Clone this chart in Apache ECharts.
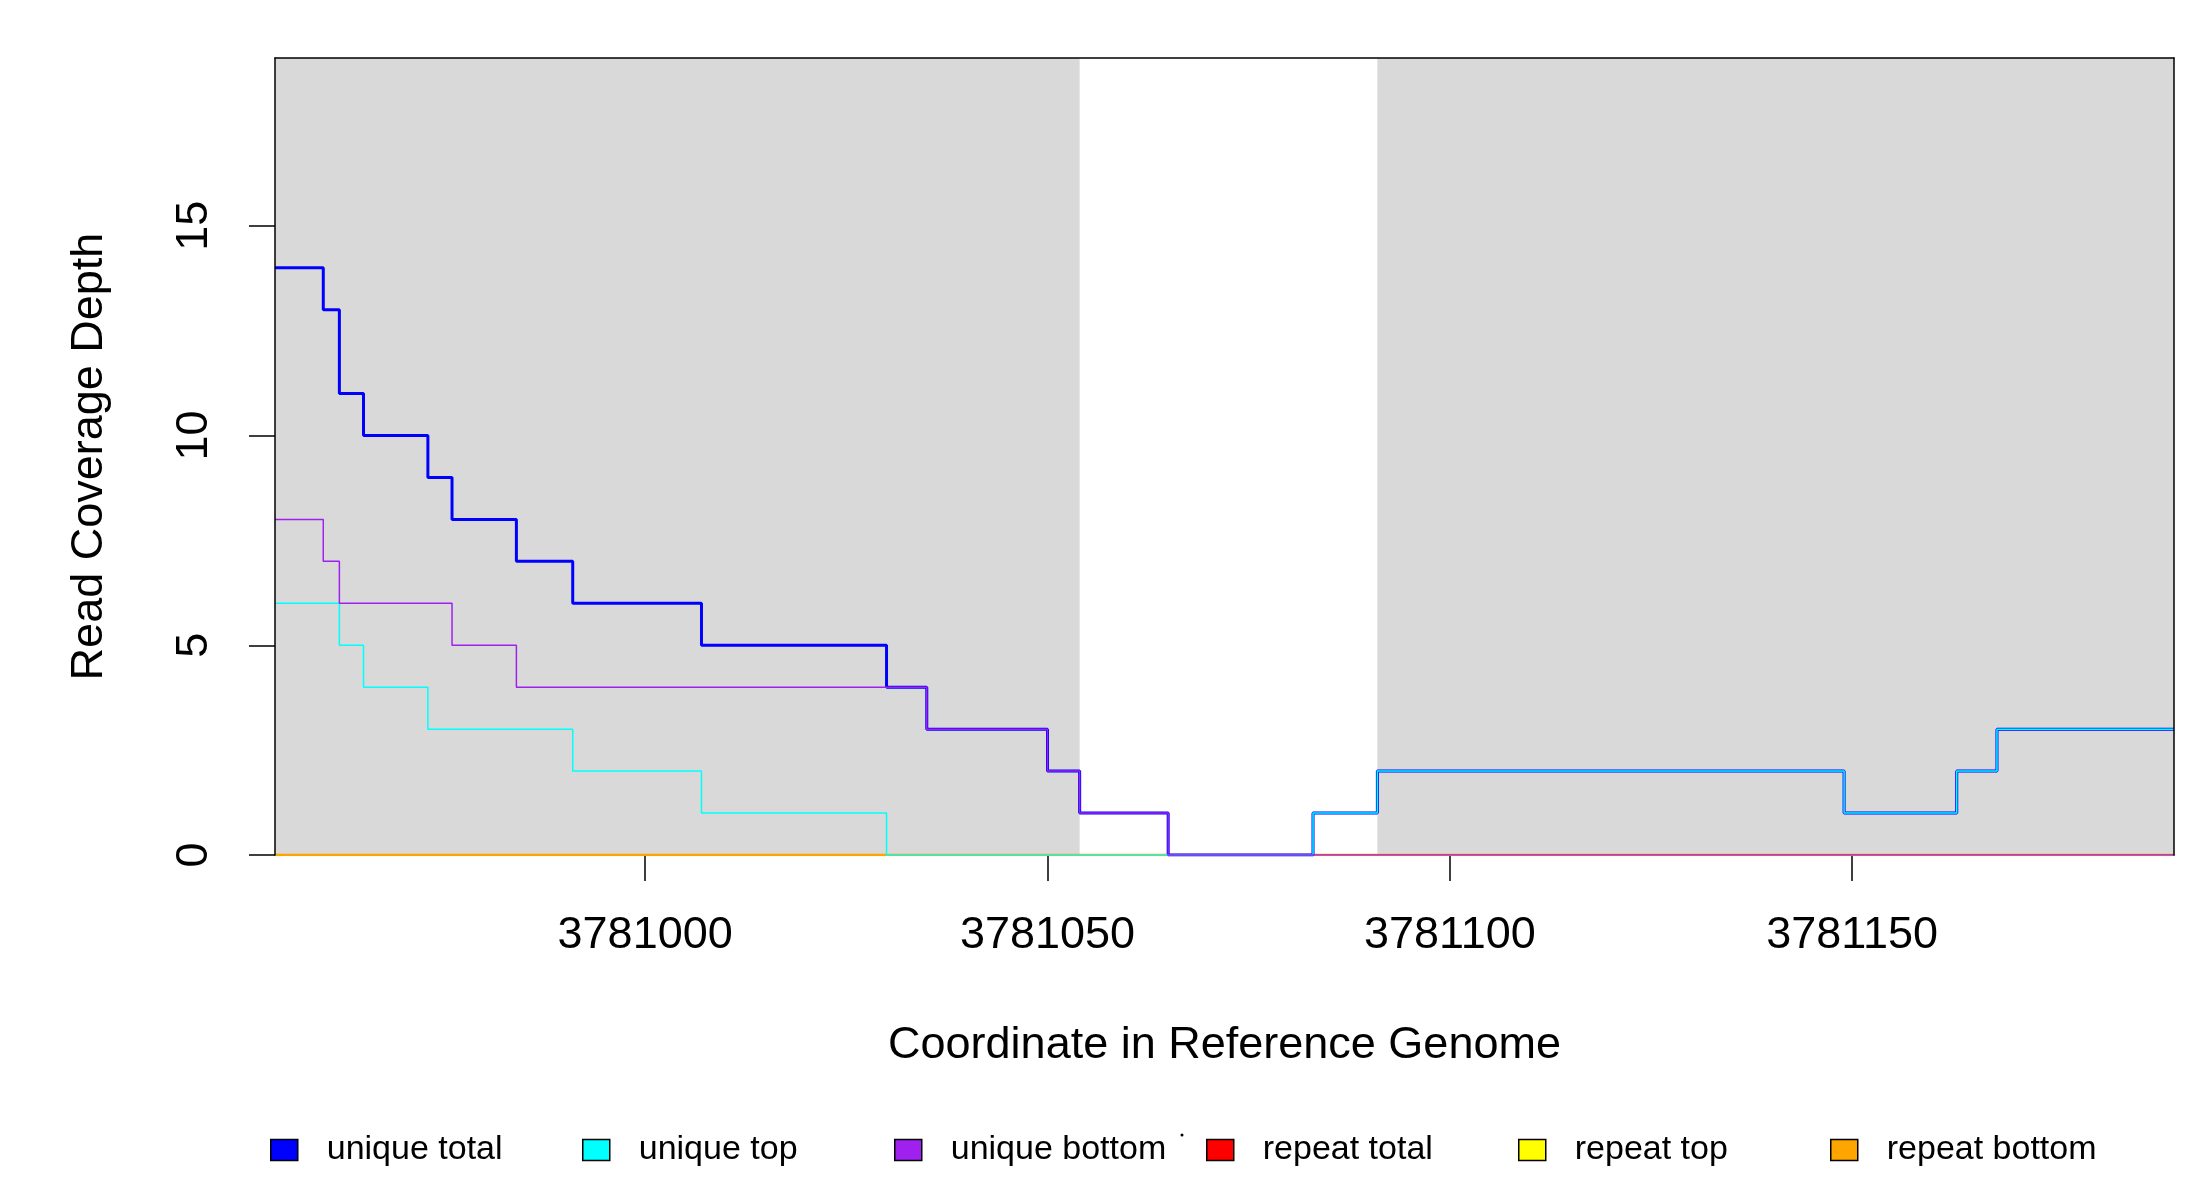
<!DOCTYPE html>
<html>
<head>
<meta charset="utf-8">
<script src="https://cdn.jsdelivr.net/npm/echarts@6/dist/echarts.min.js"></script>
<style>
  html, body { margin: 0; padding: 0; background: #fff; }
  #container { width: 2200px; height: 1200px; }
</style>
</head>
<body>
<div id="container"></div>
<script>
// step positions on the reference genome (each value holds until the next position)
var positions = [3780954, 3780960, 3780962, 3780965, 3780973, 3780976, 3780984, 3780991,
                 3781007, 3781030, 3781035, 3781050, 3781054, 3781065, 3781083, 3781091,
                 3781149, 3781163, 3781168, 3781190];

var uniqueTotal  = [14, 13, 11, 10, 9, 8, 7, 6, 5, 4, 3, 2, 1, 0, 1, 2, 1, 2, 3, 3];
var uniqueTop    = [6, 6, 5, 4, 3, 3, 3, 2, 1, 0, 0, 0, 0, 0, 1, 2, 1, 2, 3, 3];
var uniqueBottom = [8, 7, 6, 6, 6, 5, 4, 4, 4, 4, 3, 2, 1, 0, 0, 0, 0, 0, 0, 0];
var repeatTotal  = [0, 0, 0, 0, 0, 0, 0, 0, 0, 0, 0, 0, 0, 0, 0, 0, 0, 0, 0, 0];
var repeatTop    = [0, 0, 0, 0, 0, 0, 0, 0, 0, 0, 0, 0, 0, 0, 0, 0, 0, 0, 0, 0];
var repeatBottom = [0, 0, 0, 0, 0, 0, 0, 0, 0, 0, 0, 0, 0, 0, 0, 0, 0, 0, 0, 0];

// grey shaded regions (start, end)
var shadedRanges = [[3780954, 3781054], [3781091, 3781190]];

var xTicks = [3781000, 3781050, 3781100, 3781150];
var yTicks = [0, 5, 10, 15];

var legendNames = ["unique total", "unique top", "unique bottom", "repeat total", "repeat top", "repeat bottom"];

var font = "Liberation Sans";

function pairs(values){
    let out = [];
    for (let i = 0; i < positions.length; i++){
        out.push([positions[i], values[i]]);
    }
    return out;
}

function stepSeries(name, values, color, width){
    return {
        name: name,
        type: 'line',
        step: 'end',
        showSymbol: false,
        animation: false,
        z: 3,
        color: color,
        lineStyle: {color: color, width: width},
        itemStyle: {color: color},
        data: pairs(values)
    };
}

function initChart(){
    let myChart = echarts.init(document.getElementById("container"));

    let legends = [];
    for (let i = 0; i < legendNames.length; i++){
        legends.push({
            data: [{name: legendNames[i], icon: 'rect'}],
            left: 270 + 312 * i,
            top: 1133,
            padding: 0,
            itemWidth: 27,
            itemHeight: 21,
            itemStyle: {borderColor: '#000', borderWidth: 1.5},
            selectedMode: false,
            textStyle: {fontFamily: font, fontSize: 34, color: '#000', padding: [0, 0, 0, 24]}
        });
    }

    let shade = {
        name: 'shade',
        type: 'line',
        data: [],
        silent: true,
        z: 0,
        markArea: {
            silent: true,
            itemStyle: {color: '#d9d9d9'},
            data: shadedRanges.map(function (r) { return [{xAxis: r[0]}, {xAxis: r[1]}]; })
        }
    };

    // frame lines on the top and right sides
    let frameAxis = {
        show: true,
        axisLabel: {show: false},
        axisTick: {show: false},
        splitLine: {show: false},
        axisLine: {show: true, onZero: false, lineStyle: {color: '#000', width: 1.5}},
        z: 5
    };

    let option = {
        backgroundColor: '#ffffff',
        animation: false,
        grid: {left: 275, right: 26, top: 58, bottom: 345, show: false},
        legend: legends,
        xAxis: [{
            type: 'value',
            min: positions[0],
            max: positions[positions.length - 1],
            z: 1,
            axisLine: {show: true, onZero: false, lineStyle: {color: '#333', width: 1.5}},
            axisTick: {show: true, length: 26, customValues: xTicks, lineStyle: {color: '#000', width: 1.5}},
            splitLine: {show: false},
            axisLabel: {
                customValues: xTicks,
                margin: 58,
                fontFamily: font,
                fontSize: 45,
                color: '#000',
                formatter: function (v) { return String(v); }
            },
            name: 'Coordinate in Reference Genome',
            nameLocation: 'middle',
            nameGap: 168,
            nameTextStyle: {fontFamily: font, fontSize: 45, color: '#000'}
        }, Object.assign({
            type: 'value',
            position: 'top',
            min: positions[0],
            max: positions[positions.length - 1]
        }, frameAxis)],
        yAxis: [{
            type: 'value',
            min: 0,
            max: 19,
            z: 5,
            axisLine: {show: true, onZero: false, lineStyle: {color: '#000', width: 1.5}},
            axisTick: {show: true, length: 26, customValues: yTicks, lineStyle: {color: '#000', width: 1.5}},
            splitLine: {show: false},
            axisLabel: {
                customValues: yTicks,
                rotate: 90,
                margin: 58,
                fontFamily: font,
                fontSize: 45,
                color: '#000'
            },
            name: 'Read Coverage Depth',
            nameLocation: 'middle',
            nameGap: 163,
            nameTextStyle: {fontFamily: font, fontSize: 45, color: '#000'}
        }, Object.assign({
            type: 'value',
            position: 'right',
            min: 0,
            max: 19
        }, frameAxis)],
        graphic: [{
            type: 'circle',
            shape: {cx: 1182, cy: 1135, r: 1.5},
            style: {fill: '#000'}
        }],
        series: [
            shade,
            stepSeries("repeat total", repeatTotal, '#ff0000', 2),
            stepSeries("repeat top", repeatTop, '#ffff00', 2),
            stepSeries("repeat bottom", repeatBottom, '#ffa500', 2.5),
            stepSeries("unique total", uniqueTotal, '#0000ff', 3),
            stepSeries("unique top", uniqueTop, '#00ffff', 1.5),
            stepSeries("unique bottom", uniqueBottom, '#a020f0', 1.5)
        ]
    };

    myChart.setOption(option, true);
}

initChart();
</script>
</body>
</html>
